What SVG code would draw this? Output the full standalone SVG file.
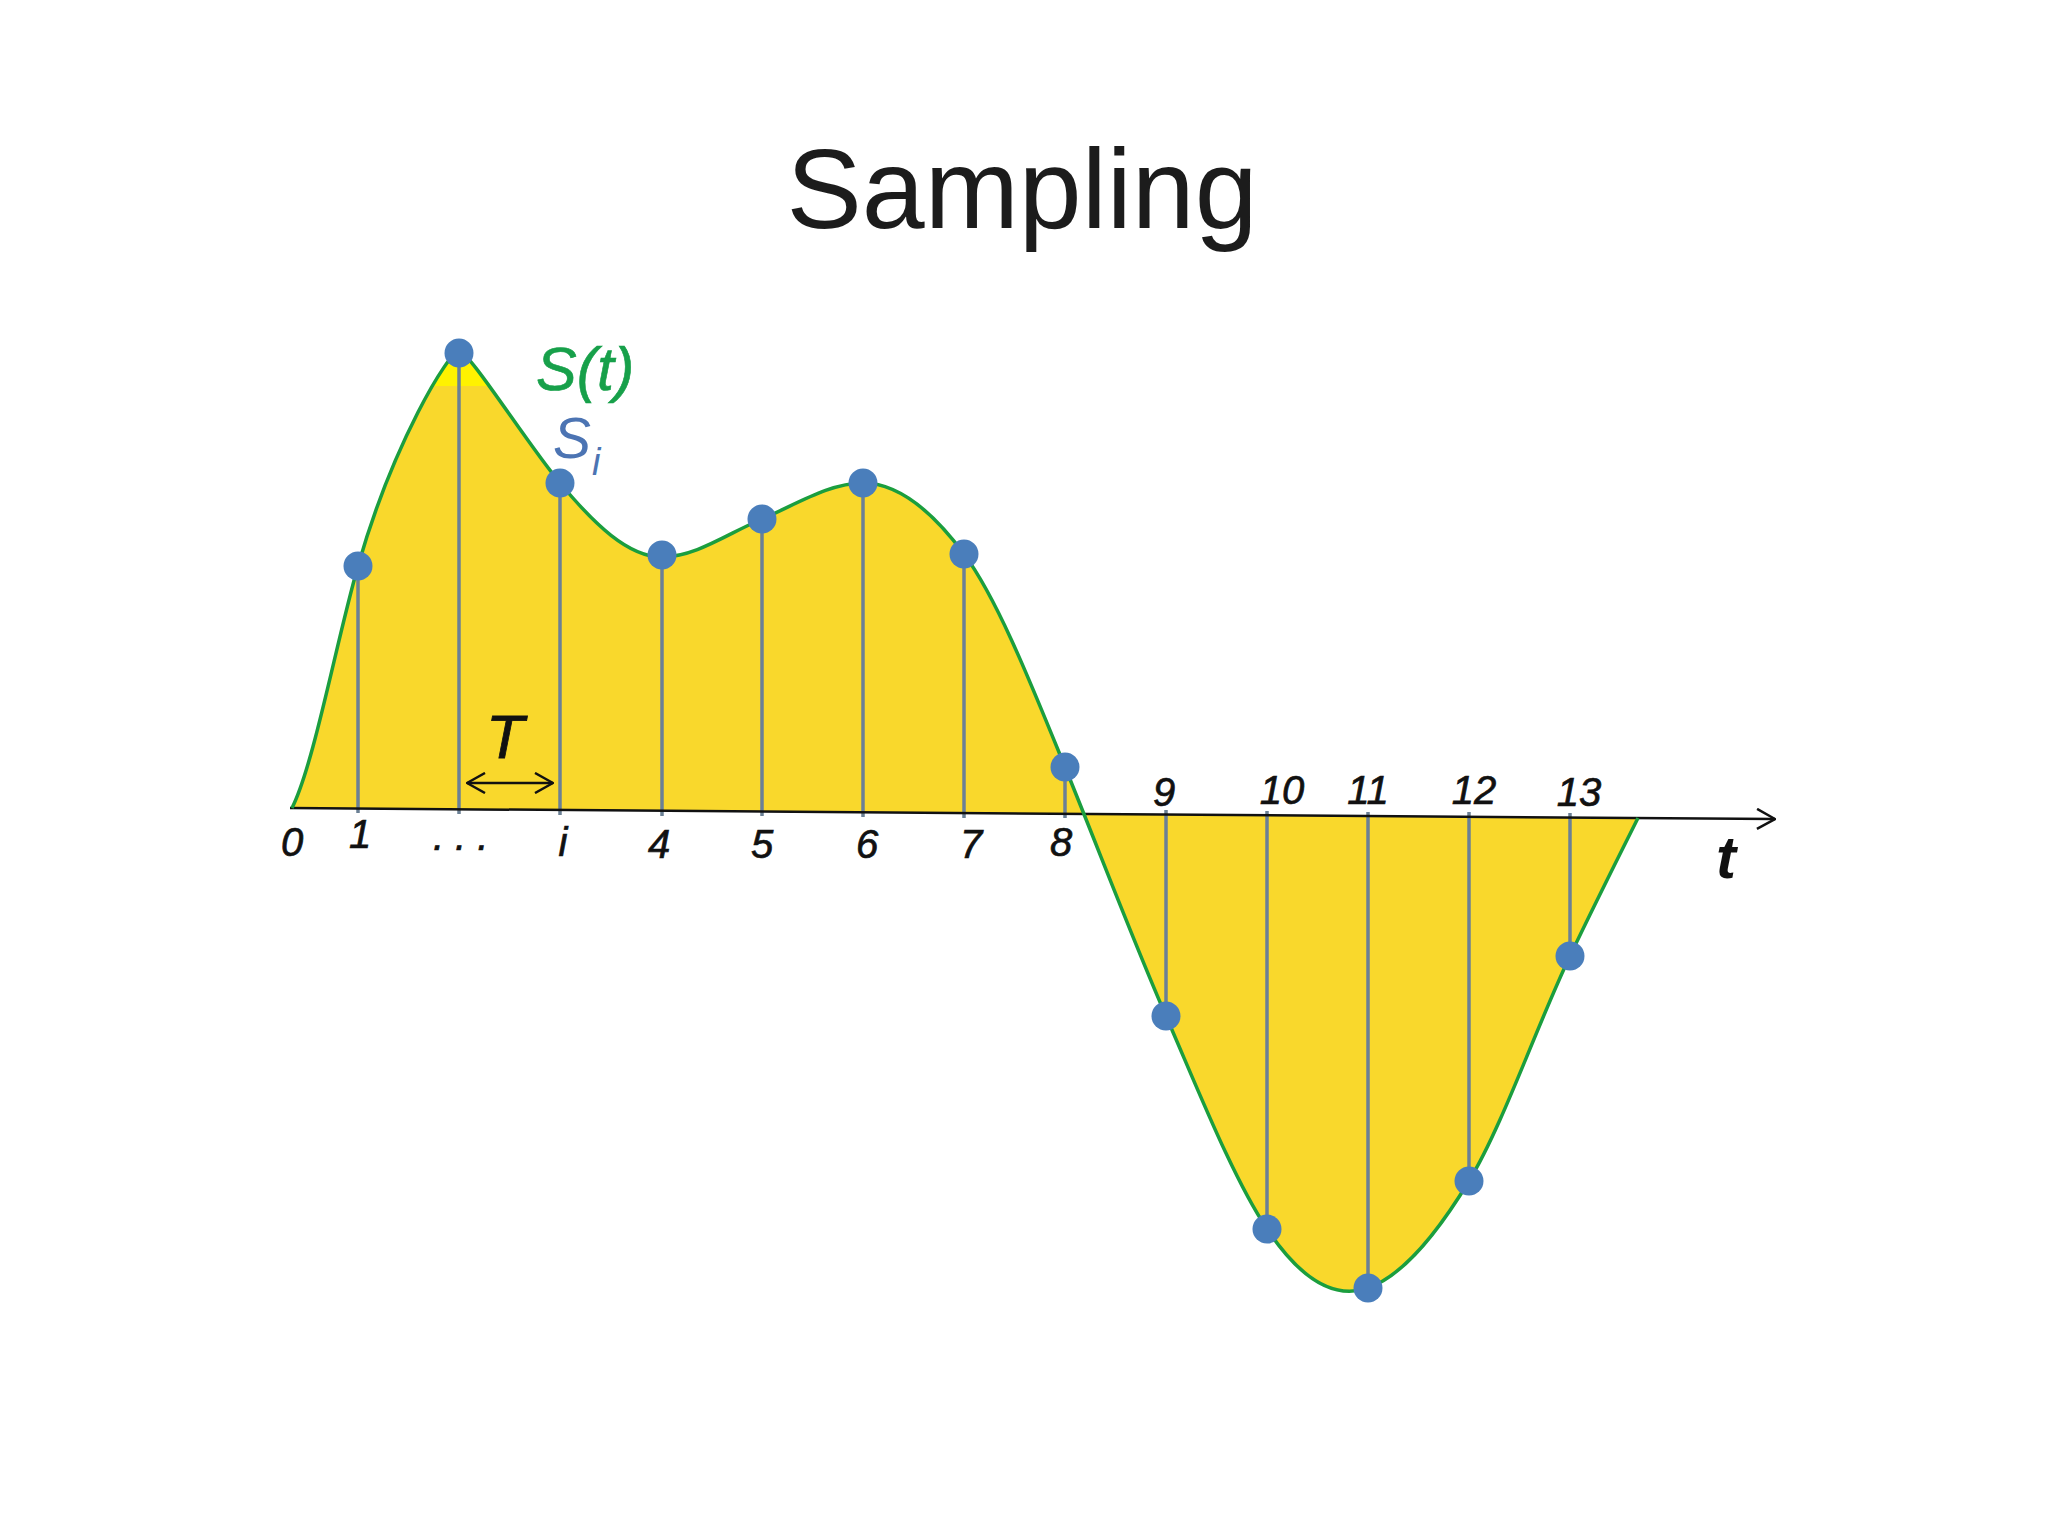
<svg xmlns="http://www.w3.org/2000/svg" width="2048" height="1535" viewBox="0 0 2048 1535">
<style>
.lbl{font-family:"Liberation Sans",Arial,sans-serif;font-style:italic;font-size:40px;fill:#111;stroke:#111;stroke-width:0.7px;text-anchor:middle}
.stem{stroke:#6b8095;stroke-width:3.5}
.dot{fill:#4a7ebb}
.ax{stroke:#111;stroke-width:2.5;fill:none}
</style>
<defs>
<path id="sig" d="M292,808 C314,764 336,643 358,566 C393,443.5 449,351 459,351 C469,351 526.3,442.6 560,483 C594,523.8 628,557 662,557 C695.7,557 728.3,533.2 762,519 C795.7,504.8 829.3,483 863,483 C896.7,483 930.3,508.5 964,554 C997.7,599.5 1031.3,684.4 1065,767 C1098.7,849.6 1132.3,938.5 1166,1016 C1199.7,1093.5 1233.3,1178.5 1267,1229 C1300.7,1279.5 1334.3,1299.8 1368,1288 C1401.7,1276.2 1435.3,1236.6 1469,1181 C1502.7,1125.4 1536.3,1026.8 1570,956 C1592.7,908.3 1615.3,863.3 1638,818"/>
<clipPath id="area"><path d="M358,566 C393,443.5 449,351 459,351 C469,351 526.3,442.6 560,483 L560,600 L358,600 Z"/></clipPath>
<marker id="chev" viewBox="0 0 20 22" refX="19" refY="11" markerWidth="20" markerHeight="22" markerUnits="userSpaceOnUse" orient="auto-start-reverse">
<path d="M1,1 L19,11 L1,21" fill="none" stroke="#111" stroke-width="2.5"/>
</marker>
</defs>
<rect width="2048" height="1535" fill="#ffffff"/>
<g id="title"><text x="1022" y="228" font-family="'Liberation Sans',Arial,sans-serif" font-size="113" fill="#1c1c1c" text-anchor="middle">Sampling</text></g>
<g id="signal-area">
<path d="M292,808 C314,764 336,643 358,566 C393,443.5 449,351 459,351 C469,351 526.3,442.6 560,483 C594,523.8 628,557 662,557 C695.7,557 728.3,533.2 762,519 C795.7,504.8 829.3,483 863,483 C896.7,483 930.3,508.5 964,554 C997.7,599.5 1031.3,684.4 1065,767 C1098.7,849.6 1132.3,938.5 1166,1016 C1199.7,1093.5 1233.3,1178.5 1267,1229 C1300.7,1279.5 1334.3,1299.8 1368,1288 C1401.7,1276.2 1435.3,1236.6 1469,1181 C1502.7,1125.4 1536.3,1026.8 1570,956 C1592.7,908.3 1615.3,863.3 1638,818 L292,808 Z" fill="#f9d82c"/>
<rect x="400" y="330" width="120" height="56" fill="#fff200" clip-path="url(#area)"/>
</g>
<g id="connectors">
<line class="stem" x1="358" y1="566" x2="358" y2="813"/>
<line class="stem" x1="459" y1="352" x2="459" y2="814"/>
<line class="stem" x1="560" y1="483" x2="560" y2="815"/>
<line class="stem" x1="662" y1="555" x2="662" y2="816"/>
<line class="stem" x1="762" y1="519" x2="762" y2="816"/>
<line class="stem" x1="863" y1="483" x2="863" y2="817"/>
<line class="stem" x1="964" y1="554" x2="964" y2="818"/>
<line class="stem" x1="1065" y1="767" x2="1065" y2="818"/>
<line class="stem" x1="1166" y1="810" x2="1166" y2="1016"/>
<line class="stem" x1="1267" y1="811" x2="1267" y2="1229"/>
<line class="stem" x1="1368" y1="812" x2="1368" y2="1288"/>
<line class="stem" x1="1469" y1="812" x2="1469" y2="1181"/>
<line class="stem" x1="1570" y1="813" x2="1570" y2="956"/>
<line id="t-axis" class="ax" x1="290" y1="808" x2="1775" y2="819" marker-end="url(#chev)"/>
<line id="period-arrow" class="ax" x1="467" y1="783" x2="553" y2="783" marker-start="url(#chev)" marker-end="url(#chev)"/>
</g>
<g id="signal-curve"><use href="#sig" fill="none" stroke="#1b9e3e" stroke-width="3.5"/></g>
<g id="samples">
<g id="s1"><circle class="dot" cx="358" cy="566" r="14.5"/></g>
<g id="s2"><circle class="dot" cx="459" cy="353" r="14.5"/></g>
<g id="si"><circle class="dot" cx="560" cy="483" r="14.5"/></g>
<g id="s4"><circle class="dot" cx="662" cy="555" r="14.5"/></g>
<g id="s5"><circle class="dot" cx="762" cy="519" r="14.5"/></g>
<g id="s6"><circle class="dot" cx="863" cy="483" r="14.5"/></g>
<g id="s7"><circle class="dot" cx="964" cy="554" r="14.5"/></g>
<g id="s8"><circle class="dot" cx="1065" cy="767" r="14.5"/></g>
<g id="s9"><circle class="dot" cx="1166" cy="1016" r="14.5"/></g>
<g id="s10"><circle class="dot" cx="1267" cy="1229" r="14.5"/></g>
<g id="s11"><circle class="dot" cx="1368" cy="1288" r="14.5"/></g>
<g id="s12"><circle class="dot" cx="1469" cy="1181" r="14.5"/></g>
<g id="s13"><circle class="dot" cx="1570" cy="956" r="14.5"/></g>
</g>
<g id="tick-labels">
<text class="lbl" x="292" y="856">0</text>
<text class="lbl" x="360" y="848">1</text>
<text class="lbl" x="433" y="850" style="text-anchor:start;letter-spacing:11px">...</text>
<text class="lbl" x="563" y="856">i</text>
<text class="lbl" x="659" y="858">4</text>
<text class="lbl" x="762" y="858">5</text>
<text class="lbl" x="867" y="858">6</text>
<text class="lbl" x="971" y="858">7</text>
<text class="lbl" x="1061" y="856">8</text>
<text class="lbl" x="1164" y="806">9</text>
<text class="lbl" x="1282" y="804">10</text>
<text class="lbl" x="1368" y="804">11</text>
<text class="lbl" x="1474" y="804">12</text>
<text class="lbl" x="1579" y="806">13</text>
</g>
<g id="axis-label"><text x="1726" y="878" font-family="'Liberation Sans',Arial,sans-serif" font-style="italic" font-weight="bold" font-size="60" fill="#111" text-anchor="middle">t</text></g>
<g id="period-label"><text x="505" y="758" font-family="'Liberation Sans',Arial,sans-serif" font-style="italic" font-size="62" fill="#111" stroke="#111" stroke-width="0.8" text-anchor="middle">T</text></g>
<g id="signal-label"><text x="536" y="390" font-family="'Liberation Sans',Arial,sans-serif" font-style="italic" font-size="61" fill="#17a04a" stroke="#17a04a" stroke-width="0.6">S(t)</text></g>
<g id="sample-label"><text x="553" y="458" font-family="'Liberation Sans',Arial,sans-serif" font-style="italic" font-size="57" fill="#4c74b3">S<tspan font-size="38" dx="1" dy="17">i</tspan></text></g>
</svg>
